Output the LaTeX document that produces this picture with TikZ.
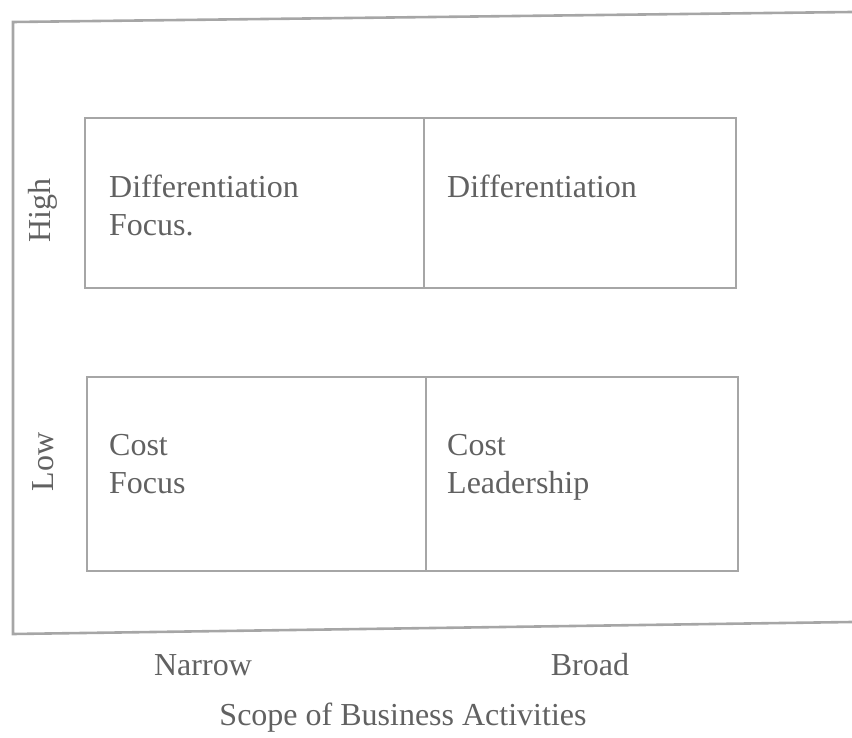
\documentclass[tikz,border=0pt]{standalone}
\usepackage{fontspec}
\setmainfont{Liberation Serif}
\usepackage{xcolor}
\usepackage{tikz}

\begin{document}
\begin{tikzpicture}[x=1pt, y=-1pt,
    frame/.style={line width=2.6pt, black!35},
    txt/.style={text=black!62, font=\fontsize{32}{38}\selectfont, inner sep=0pt}]
  \useasboundingbox (0,0) rectangle (852,738);

  \draw[frame] (852,12) -- (13,22) -- (13,634) -- (852,622);

  \draw[frame] (85,118) rectangle (736,288);
  \draw[frame] (424,118) -- (424,288);
  \draw[frame] (87,377) rectangle (738,571);
  \draw[frame] (426,377) -- (426,571);

  \node[txt, anchor=north west, align=left] (difffocus) at (109,175) {Differentiation\\Focus.};
  \node[txt, anchor=north west, align=left] (diff) at (447,175) {Differentiation};
  \node[txt, anchor=north west, align=left] (costfocus) at (109,434) {Cost\\Focus};
  \node[txt, anchor=north west, align=left] (costlead) at (447,434) {Cost\\Leadership};

  \node[txt, rotate=90] (high) at (43,211) {High};
  \node[txt, rotate=90] (low) at (43,462) {Low};

  \node[txt, anchor=base] (narrow) at (203,675) {Narrow};
  \node[txt, anchor=base] (broad) at (590,675) {Broad};
  \node[txt, anchor=base] (scope) at (403,725) {Scope of Business Activities};
\end{tikzpicture}
\end{document}
